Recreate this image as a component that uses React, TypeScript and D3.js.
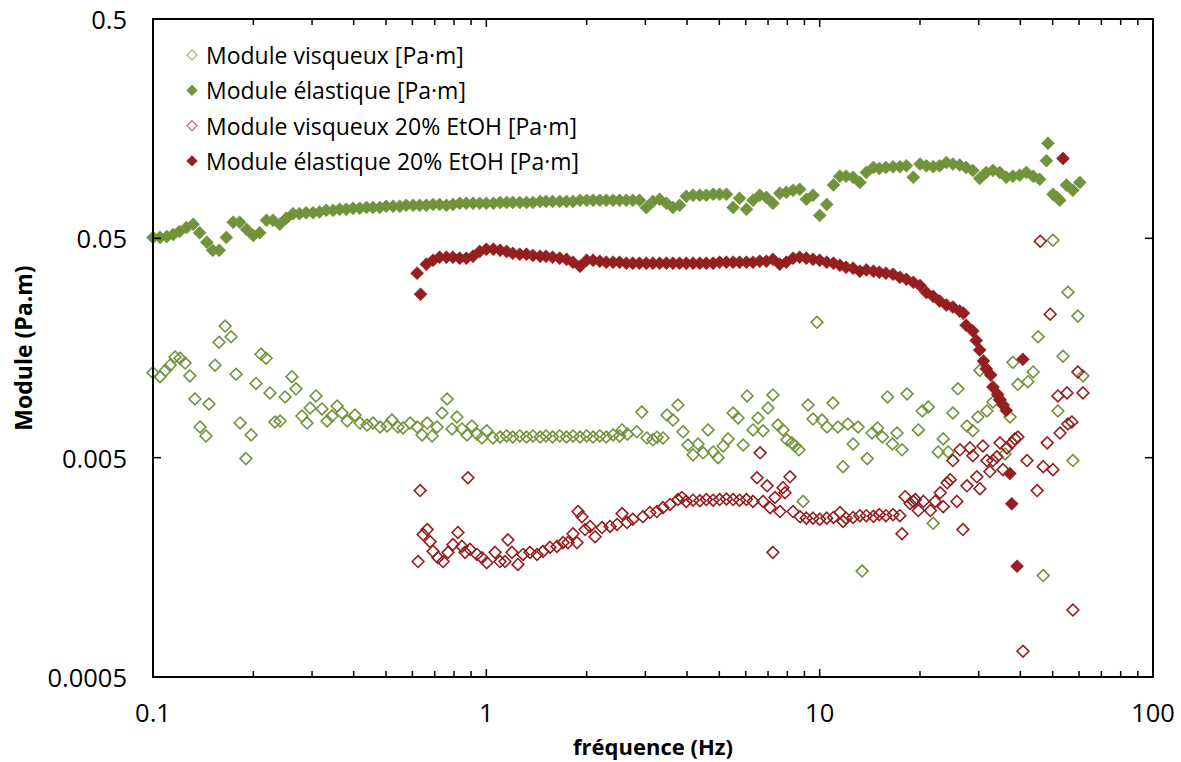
import React from 'react';
import * as d3 from 'd3';

// ---------- data (frequency [Hz], module [Pa.m]) ----------
const SERIES_NAMES = [
  'Module visqueux [Pa·m]',
  'Module élastique [Pa·m]',
  'Module visqueux 20% EtOH [Pa·m]',
  'Module élastique 20% EtOH [Pa·m]',
];
const X_TICKS = [0.1, 1, 10, 100];
const X_TICK_LABELS = ['0.1', '1', '10', '100'];
const Y_TICKS = [0.0005, 0.005, 0.05, 0.5];
const Y_TICK_LABELS = ['0.0005', '0.005', '0.05', '0.5'];
const X_TITLE = 'fréquence (Hz)';
const Y_TITLE = 'Module (Pa.m)';

const GREEN_VISCOUS: [number, number][] = [
  [0.1,0.0122],[0.105,0.0117],[0.109,0.0125],[0.1125,0.0132],[0.1164,0.0144],[0.1205,0.0142],[0.1248,0.0135],[0.129,0.0118],[0.1336,0.00926],[0.1384,0.0069],[0.1442,0.00628],[0.1472,0.00878],[0.1535,0.0132],[0.1578,0.0168],[0.1646,0.0199],[0.1715,0.0178],[0.1775,0.012],[0.1825,0.0072],[0.19,0.00495],[0.197,0.00635],[0.2037,0.0109],[0.2109,0.0148],[0.2183,0.0142],[0.2244,0.00987],[0.2322,0.00727],[0.2405,0.00735],[0.249,0.00946],[0.261,0.0117],[0.2685,0.0103],[0.2798,0.00774],[0.2898,0.00719],[0.296,0.00842],[0.3083,0.00956],[0.3213,0.00834],[0.3328,0.00735],[0.3443,0.00774],[0.3567,0.00859],[0.369,0.00799],[0.3824,0.00735],[0.4036,0.00782],[0.418,0.00719],[0.4386,0.00704],[0.457,0.00719],[0.48,0.0069],[0.5036,0.00697],[0.521,0.00742],[0.5434,0.0069],[0.5628,0.00683],[0.5906,0.00719],[0.62,0.0069],[0.6416,0.00635],[0.6645,0.00719],[0.6874,0.00628],[0.7114,0.0069],[0.7363,0.00799],[0.7626,0.00926],[0.789,0.00676],[0.816,0.00766],[0.845,0.00676],[0.875,0.00635],[0.905,0.00697],[0.9375,0.00641],[0.97,0.00615],[1.003,0.00663],[1.047,0.00615],
  [1.1,0.00621],[1.15,0.00628],[1.2,0.00621],[1.26,0.00628],[1.32,0.00621],[1.38,0.00628],[1.45,0.00621],[1.51,0.00628],[1.58,0.00621],[1.66,0.00628],[1.74,0.00621],[1.82,0.00628],[1.91,0.00621],[2.0,0.00628],[2.09,0.00621],[2.19,0.00628],[2.29,0.00621],[2.4,0.00635],[2.51,0.00628],
  [2.554,0.00669],[2.65,0.0064],[2.827,0.00656],[2.926,0.00807],[3.033,0.00615],[3.16,0.00603],[3.25,0.0062],[3.388,0.00615],[3.482,0.00782],[3.63,0.00742],[3.757,0.00869],[3.891,0.00656],[4.026,0.00571],[4.17,0.00515],[4.316,0.00577],[4.47,0.00526],[4.625,0.00669],[4.79,0.00531],[4.958,0.005],[5.135,0.00565],[5.312,0.00609],[5.5,0.00799],[5.69,0.00758],[5.896,0.00571],[6.06,0.00956],[6.31,0.00669],[6.53,0.00758],[6.764,0.00663],[6.998,0.00842],[7.24,0.00966],[7.493,0.00704],[7.761,0.00669],[7.978,0.00603],[8.254,0.00584],[8.436,0.00565],[8.669,0.00543],[8.919,0.00316],[9.227,0.00869],[9.55,0.0075],[9.817,0.0207],[10.16,0.00742],[10.52,0.0069],[10.96,0.00887],[11.34,0.0069],[11.75,0.00455],[12.15,0.00712],[12.6,0.00577],[13.04,0.0069],[13.41,0.00152],[13.89,0.00495],[14.36,0.00648],[14.91,0.00683],[15.43,0.00621],[15.98,0.00946],[16.53,0.00577],[17.06,0.00648],[17.66,0.00543],[18.29,0.00977],[19.77,0.00669],[20.32,0.00816],[21.18,0.00851],[21.9,0.00251],[22.67,0.00531],[23.48,0.00609],[24.29,0.00531],[25.1,0.00799],[25.98,0.0103],[27.66,0.00697],[28.8,0.00663],[29.81,0.00766],[30.24,0.0125],[31.74,0.00816],[33.1,0.00897],[34.76,0.00916],[35.98,0.0052],[37.24,0.00766],[38,0.0136],[39.33,0.0108],[42.14,0.0111],[43.7,0.0123],[45.23,0.0178],[46.85,0.00145],[50.1,0.049],[51.85,0.00816],[53.71,0.0145],[55.56,0.0284],[57.5,0.00485],[59.51,0.0221],[61.64,0.0118],
];

const GREEN_ELASTIC: [number, number][] = [
  [0.1,0.0505],[0.105,0.0505],[0.11,0.051],[0.115,0.052],[0.12,0.0537],[0.126,0.056],[0.132,0.0579],[0.138,0.053],[0.145,0.048],[0.151,0.0441],[0.158,0.0441],[0.166,0.0505],[0.174,0.0592],[0.182,0.0592],[0.191,0.0549],[0.2,0.0515],[0.209,0.053],[0.219,0.0604],[0.229,0.0604],[0.24,0.058],[0.251,0.0617],[0.263,0.0648],[0.275,0.0648],[0.288,0.0654],[0.302,0.0654],[0.316,0.066],[0.331,0.0671],[0.347,0.0671],[0.363,0.0678],[0.38,0.0678],[0.398,0.0685],[0.417,0.0685],[0.437,0.0692],[0.457,0.0692],[0.479,0.0692],[0.501,0.07],[0.525,0.07],[0.55,0.07],[0.575,0.0707],[0.603,0.0707],[0.631,0.0707],[0.661,0.0707],[0.692,0.0714],[0.724,0.0714],[0.759,0.0707],[0.794,0.0714],[0.832,0.0722],[0.871,0.0722],[0.912,0.0722],[0.955,0.0722],
  [1,0.0722],[1.05,0.0722],[1.1,0.0729],[1.15,0.0729],[1.2,0.0729],[1.26,0.0729],[1.32,0.0729],[1.38,0.0729],[1.45,0.0737],[1.51,0.0737],[1.58,0.0737],[1.66,0.0737],[1.74,0.0737],[1.82,0.0737],[1.91,0.0745],[2.0,0.0745],[2.09,0.0745],[2.19,0.0745],[2.29,0.0745],[2.4,0.0745],[2.51,0.0745],[2.63,0.0745],[2.75,0.0745],[2.88,0.0745],[3.02,0.069],[3.16,0.0737],[3.31,0.0753],[3.47,0.0722],[3.63,0.0692],[3.8,0.0707],[3.98,0.0777],[4.17,0.0786],[4.37,0.0786],[4.57,0.0786],[4.79,0.0794],[5.01,0.0794],[5.25,0.0794],[5.5,0.0692],[5.75,0.0761],[6.03,0.0678],[6.31,0.0745],[6.61,0.0786],[6.92,0.0769],[7.24,0.0722],[7.59,0.0803],[7.94,0.0811],[8.32,0.0828],[8.71,0.0836],[9.12,0.0753],[9.55,0.0786],
  [10,0.0636],[10.5,0.0714],[11,0.0876],[11.5,0.096],[12,0.096],[12.6,0.0949],[13.2,0.0899],[13.8,0.0999],[14.5,0.1052],[15.1,0.1042],[15.8,0.1052],[16.6,0.106],[17.4,0.106],[18.2,0.107],[19.1,0.0949],[20,0.109],[20.9,0.107],[21.9,0.106],[22.9,0.107],[24,0.1107],[25.1,0.109],[26.3,0.108],[27.5,0.1052],[28.8,0.102],[30.2,0.0938],[31.6,0.0999],[33.1,0.102],[34.7,0.0999],[36.3,0.0949],[38,0.096],[39.8,0.097],[41.7,0.0999],[43.7,0.096],[45.7,0.0929],[47.9,0.113],[48.4,0.1355],[50.1,0.0794],[51.5,0.0769],[52.5,0.0745],[55,0.0876],[57.5,0.0828],[60.3,0.0899],
];

const RED_VISCOUS: [number, number][] = [
  [0.633,0.00354],[0.624,0.00168],[0.6464,0.00223],[0.6645,0.00235],[0.6784,0.00207],[0.692,0.00187],[0.716,0.00175],[0.7418,0.00168],[0.7674,0.00185],[0.794,0.00201],[0.8218,0.00228],[0.845,0.00197],[0.863,0.00185],[0.8805,0.00405],[0.893,0.00191],[0.9375,0.00181],[0.97,0.00175],[1.003,0.00166],[1.062,0.00185],[1.099,0.00168],[1.138,0.00168],[1.161,0.00211],[1.194,0.00185],[1.244,0.00163],[1.289,0.00181],[1.352,0.00185],[1.419,0.00181],[1.479,0.00187],[1.552,0.00195],[1.629,0.00197],[1.699,0.00205],[1.758,0.00205],[1.82,0.00225],[1.871,0.00205],[1.884,0.00284],[1.936,0.00269],[1.978,0.00235],[2.048,0.00243],[2.119,0.00218],[2.224,0.0024],[2.351,0.00243],[2.467,0.00248],[2.554,0.00278],[2.645,0.00253],[2.75,0.00262],[2.948,0.00269],[3.094,0.00281],[3.248,0.00284],[3.388,0.00296],[3.555,0.00306],[3.757,0.00322],[3.862,0.00329],[3.98,0.00316],[4.17,0.0032],[4.37,0.00318],[4.57,0.00322],[4.79,0.0032],[5.01,0.00322],[5.25,0.00324],[5.5,0.00322],[5.75,0.0032],[6.03,0.00322],[6.31,0.00316],[6.487,0.00405],[6.626,0.00526],[6.764,0.00316],[6.954,0.00372],[7.099,0.00296],[7.24,0.00185],[7.341,0.00329],[7.602,0.00284],[7.761,0.00365],[7.87,0.00346],[8.145,0.00409],[8.32,0.00284],[8.736,0.00269],[9.12,0.00265],[9.55,0.00265],
  [10,0.00262],[10.5,0.00265],[11,0.00267],[11.51,0.00281],[11.75,0.00256],[12,0.00265],[12.6,0.00267],[13.2,0.00272],[13.8,0.00272],[14.5,0.0027],[15.1,0.00275],[15.8,0.00272],[16.6,0.00275],[17.4,0.00272],[17.66,0.00225],[18.04,0.00332],[18.68,0.00309],[19.1,0.00316],[19.37,0.00322],[19.77,0.00287],[20.48,0.00316],[21.49,0.00287],[22.21,0.00316],[22.99,0.00346],[23.48,0.00299],[24.13,0.00384],[24.64,0.00397],[25.1,0.00485],[25.8,0.00316],[26.36,0.00543],[26.91,0.00235],[27.66,0.00372],[28.24,0.00554],[28.8,0.0051],[29.61,0.00409],[30.24,0.00361],[30.87,0.00565],[31.74,0.00485],[32.4,0.00432],[33.1,0.00485],[34.03,0.00505],[34.76,0.00584],[35.48,0.00441],[36.48,0.00554],[37.73,0.00584],[38.53,0.00609],[39.33,0.00621],[40.74,0.000655],[41.88,0.00485],[44.92,0.00354],[45.89,0.0485],[46.85,0.00455],[48.16,0.00584],[49.16,0.02254],[50.1,0.00441],[51.85,0.00956],[52.6,0.00648],[55.21,0.00987],[55.56,0.00712],[57.1,0.00727],[57.5,0.00101],[59.51,0.01228],[61.64,0.00987],
];

const RED_ELASTIC: [number, number][] = [
  [0.62,0.0347],[0.635,0.0278],[0.661,0.0381],[0.692,0.0397],[0.724,0.041],[0.759,0.041],[0.794,0.041],[0.832,0.0406],[0.871,0.0406],[0.912,0.0414],[0.955,0.0436],[1,0.0446],[1.05,0.0446],[1.1,0.0441],[1.15,0.0436],[1.2,0.0427],[1.26,0.0423],[1.32,0.0423],[1.38,0.0418],[1.45,0.0414],[1.51,0.0414],[1.58,0.041],[1.66,0.0406],[1.74,0.0401],[1.82,0.0389],[1.91,0.0373],[2.0,0.0397],[2.09,0.0397],[2.19,0.0393],[2.29,0.0389],[2.4,0.0389],[2.51,0.0389],[2.63,0.0385],[2.75,0.0385],[2.88,0.0385],[3.02,0.0385],[3.16,0.0385],[3.31,0.0385],[3.47,0.0385],[3.63,0.0385],[3.8,0.0385],[3.98,0.0385],[4.17,0.0385],[4.37,0.0385],[4.57,0.0385],[4.79,0.0385],[5.01,0.0389],[5.25,0.0389],[5.5,0.0389],[5.75,0.0389],[6.03,0.0389],[6.31,0.0389],[6.61,0.0393],[6.92,0.0393],[7.24,0.0401],[7.59,0.0381],[7.94,0.0389],[8.32,0.0406],[8.71,0.041],[9.12,0.0406],[9.55,0.0401],
  [10,0.0397],[10.5,0.0389],[11,0.0385],[11.5,0.0377],[12,0.0369],[12.6,0.0365],[13.2,0.0354],[13.8,0.0359],[14.5,0.0354],[15.1,0.035],[15.8,0.0347],[16.6,0.0343],[17.4,0.0332],[18.2,0.0325],[19.1,0.0315],[20,0.0305],[20.9,0.0283],[21.9,0.0272],[22.9,0.0259],[24,0.0248],[25.1,0.0243],[26.3,0.0233],[27,0.0228],[27.5,0.0201],[28.8,0.0189],[29.5,0.0171],[30.2,0.0155],[31,0.0138],[31.6,0.0127],[32.6,0.0119],[33.1,0.0105],[34.2,0.0097],[34.7,0.0092],[35.5,0.0087],[36.3,0.0082],[37.2,0.00423],[37.7,0.00308],[39.1,0.0016],[40.7,0.01405],[53.7,0.1157],
];

const GREEN = '#71933B';
const RED = '#951E20';

const SERIES = [
  { name: SERIES_NAMES[0], data: GREEN_VISCOUS, color: GREEN, filled: false },
  { name: SERIES_NAMES[1], data: GREEN_ELASTIC, color: GREEN, filled: true },
  { name: SERIES_NAMES[2], data: RED_VISCOUS, color: RED, filled: false },
  { name: SERIES_NAMES[3], data: RED_ELASTIC, color: RED, filled: true },
];

const W = 1181;
const H = 762;
const PLOT = { left: 153, right: 1153, top: 19, bottom: 677 };
const FONT = '"Open Sans", Lato, sans-serif';

function diamond(r: number) {
  return `M0,${-r}L${r},0L0,${r}L${-r},0Z`;
}

export default function App() {
  const x = d3.scaleLog().domain([0.1, 100]).range([PLOT.left, PLOT.right]);
  const y = d3.scaleLog().domain([0.0005, 0.5]).range([PLOT.bottom, PLOT.top]);

  const minorX: number[] = [];
  [0.1, 1, 10].forEach((d) => {
    for (let m = 2; m <= 9; m++) minorX.push(d * m);
  });

  const openPath = diamond(5.9);
  const filledPath = diamond(6.5);

  return (
    <div style={{ position: 'absolute', left: 0, top: 0, width: W, height: H, background: '#fff' }}>
      <svg width={W} height={H} style={{ display: 'block' }}>
        <rect x={0} y={0} width={W} height={H} fill="#fff" />
        {SERIES.map((s, si) => (
          <g key={si}>
            {s.data.map(([f, v], i) => (
              <path
                key={i}
                d={s.filled ? filledPath : openPath}
                transform={`translate(${x(f)},${y(v)})`}
                fill={s.filled ? s.color : 'none'}
                stroke={s.color}
                strokeWidth={s.filled ? 0.6 : 1.6}
              />
            ))}
          </g>
        ))}

        <rect
          x={PLOT.left}
          y={PLOT.top}
          width={PLOT.right - PLOT.left}
          height={PLOT.bottom - PLOT.top}
          fill="none"
          stroke="#000"
          strokeWidth={2}
        />
        {minorX.map((t, i) => (
          <g key={'mx' + i}>
            <line x1={x(t)} x2={x(t)} y1={PLOT.bottom} y2={PLOT.bottom - 6} stroke="#000" strokeWidth={1.5} />
            <line x1={x(t)} x2={x(t)} y1={PLOT.top} y2={PLOT.top + 6} stroke="#000" strokeWidth={1.5} />
          </g>
        ))}
        {X_TICKS.map((t, i) => (
          <g key={'Mx' + i}>
            <line x1={x(t)} x2={x(t)} y1={PLOT.bottom} y2={PLOT.bottom - 8} stroke="#000" strokeWidth={1.5} />
            <line x1={x(t)} x2={x(t)} y1={PLOT.top} y2={PLOT.top + 8} stroke="#000" strokeWidth={1.5} />
            <text
              x={x(t)}
              y={712}
              textAnchor="middle"
              dominantBaseline="central"
              fontFamily={FONT}
              fontSize={25.5}
              fill="#000"
            >
              {X_TICK_LABELS[i]}
            </text>
          </g>
        ))}
        {Y_TICKS.map((t, i) => (
          <g key={'My' + i}>
            <line x1={PLOT.left} x2={PLOT.left + 8} y1={y(t)} y2={y(t)} stroke="#000" strokeWidth={1.5} />
            <line x1={PLOT.right} x2={PLOT.right - 8} y1={y(t)} y2={y(t)} stroke="#000" strokeWidth={1.5} />
            <text
              x={127}
              y={y(t)}
              textAnchor="end"
              dominantBaseline="central"
              fontFamily={FONT}
              fontSize={25.5}
              fill="#000"
            >
              {Y_TICK_LABELS[i]}
            </text>
          </g>
        ))}

        <text
          x={(PLOT.left + PLOT.right) / 2}
          y={746}
          textAnchor="middle"
          dominantBaseline="central"
          fontFamily={FONT}
          fontWeight="bold"
          fontSize={22}
          fill="#000"
        >
          {X_TITLE}
        </text>
        <text
          transform={`translate(23,${(PLOT.top + PLOT.bottom) / 2}) rotate(-90)`}
          textAnchor="middle"
          dominantBaseline="central"
          fontFamily={FONT}
          fontWeight="bold"
          fontSize={23}
          fill="#000"
        >
          {Y_TITLE}
        </text>

        {SERIES.map((s, i) => {
          const cy = 55 + i * 35.3;
          return (
            <g key={'lg' + i}>
              <path
                d={diamond(s.filled ? 5.4 : 5)}
                transform={`translate(192,${cy})`}
                fill={s.filled ? s.color : 'none'}
                stroke={s.color}
                strokeWidth={s.filled ? 0.5 : 1.1}
                opacity={s.filled ? 1 : 0.7}
              />
              <text
                x={206}
                y={cy}
                dominantBaseline="central"
                fontFamily={FONT}
                fontSize={23}
                fill="#000"
              >
                {s.name}
              </text>
            </g>
          );
        })}
      </svg>
    </div>
  );
}
